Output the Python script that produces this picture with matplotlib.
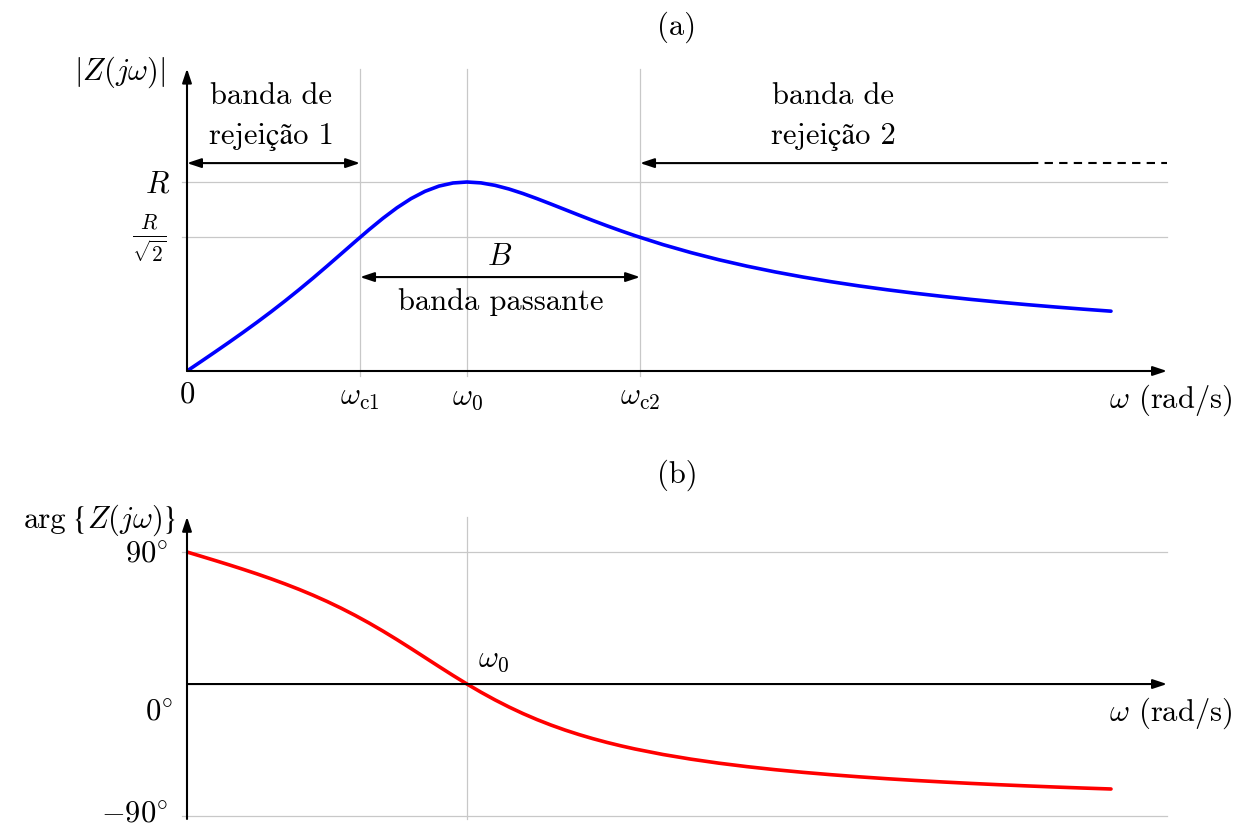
import matplotlib.pyplot as plt

plt.rcParams['font.family'] = ['cmr10', 'STIXGeneral', 'DejaVu Serif']
plt.rcParams['mathtext.fontset'] = 'cm'
plt.rcParams['axes.formatter.use_mathtext'] = True

# frequency (normalised to w0) and values
w = [0, 0.05, 0.1, 0.15, 0.2, 0.25, 0.3, 0.35, 0.4, 0.45, 0.5, 0.55, 0.6,
     0.65, 0.7, 0.75, 0.8, 0.85, 0.9, 0.95, 1.0, 1.05, 1.1, 1.15, 1.2, 1.25,
     1.3, 1.35, 1.4, 1.45, 1.5, 1.55, 1.6, 1.7, 1.8, 1.9, 2.0, 2.1, 2.2, 2.3,
     2.4, 2.5, 2.6, 2.7, 2.8, 2.9, 3.0, 3.1, 3.2, 3.3]
mag = [0, 0.050, 0.1005, 0.1517, 0.204, 0.2577, 0.3131, 0.3705, 0.430,
       0.4914, 0.5547, 0.6192, 0.6839, 0.7476, 0.8082, 0.8638, 0.9119, 0.9506,
       0.9784, 0.9948, 1.0, 0.9953, 0.9823, 0.9629, 0.9389, 0.9119, 0.8833,
       0.854, 0.8247, 0.796, 0.7682, 0.7415, 0.716, 0.6687, 0.6264, 0.5885,
       0.5547, 0.5244, 0.4971, 0.4725, 0.4502, 0.4299, 0.4114, 0.3945, 0.3788,
       0.3644, 0.3511, 0.3388, 0.3273, 0.3165]
phase = [90, 87.13, 84.23, 81.28, 78.23, 75.07, 71.75, 68.25, 64.54, 60.57,
         56.31, 51.74, 46.85, 41.62, 36.08, 30.26, 24.23, 18.08, 11.92, 5.86,
         0, -5.58, -10.81, -15.66, -20.14, -24.23, -27.96, -31.36, -34.44,
         -37.25, -39.81, -42.14, -44.28, -48.03, -51.21, -53.95, -56.31, -58.38,
         -60.19, -61.8, -63.24, -64.54, -65.71, -66.77, -67.74, -68.63, -69.44,
         -70.2, -70.9, -71.55]

w_c1 = 0.618
w_0 = 1.0
w_c2 = 1.618
half = 0.7071

FS = 22
GRID = '#c8c8c8'


def arrow(ax, x0, y0, x1, y1, style='-|>'):
    ax.annotate('', xy=(x1, y1), xytext=(x0, y0), annotation_clip=False,
                arrowprops=dict(arrowstyle=style + ',head_length=0.6,head_width=0.2',
                                mutation_scale=14, lw=1.5, color='black',
                                shrinkA=0, shrinkB=0))


fig = plt.figure(figsize=(12.4, 8.29), dpi=100)
ax1 = fig.add_axes([187 / 1240, (829 - 372) / 829, 980 / 1240, 302.4 / 829])
ax2 = fig.add_axes([187 / 1240, (829 - 820) / 829, 980 / 1240, 302.2 / 829])

# ---- (a) magnitude
ax1.set_xlim(0, 3.5)
ax1.set_ylim(0, 1.6)
ax1.axis('off')
for yv in [1.0, half]:
    ax1.plot([-0.018, 3.5], [yv, yv], color=GRID, lw=0.9, clip_on=False)
for xv in [w_c1, w_0, w_c2]:
    ax1.plot([xv, xv], [-0.026, 1.6], color=GRID, lw=0.9, clip_on=False)
arrow(ax1, 0, 0, 3.5, 0)
arrow(ax1, 0, 0, 0, 1.6)
ax1.plot(w, mag, color='blue', lw=2.6, solid_capstyle='round', solid_joinstyle='round')

arrow(ax1, 0, 1.1, w_c1, 1.1, '<|-|>')
arrow(ax1, 3.01, 1.1, w_c2, 1.1)
ax1.plot([3.01, 3.5], [1.1, 1.1], color='black', lw=1.5, ls=(0, (4, 3)), clip_on=False)
arrow(ax1, w_c1, 0.497, w_c2, 0.497, '<|-|>')

ax1.text(0.30, 1.46, 'banda de', fontsize=FS, ha='center', va='center')
ax1.text(0.30, 1.243, 'rejeição 1', fontsize=FS, ha='center', va='center')
ax1.text(2.307, 1.46, 'banda de', fontsize=FS, ha='center', va='center')
ax1.text(2.307, 1.243, 'rejeição 2', fontsize=FS, ha='center', va='center')
ax1.text(1.118, 0.608, r'$B$', fontsize=FS, ha='center', va='center')
ax1.text(1.121, 0.370, 'banda passante', fontsize=FS, ha='center', va='center')

ax1.text(0, -0.122, r'$0$', fontsize=FS, ha='center', va='center')
ax1.text(w_c1, -0.14, r'$\omega_{\mathrm{c1}}$', fontsize=FS, ha='center', va='center')
ax1.text(w_0, -0.14, r'$\omega_0$', fontsize=FS, ha='center', va='center')
ax1.text(w_c2, -0.14, r'$\omega_{\mathrm{c2}}$', fontsize=FS, ha='center', va='center')
ax1.text(3.732, -0.148, r'$\omega$ (rad/s)', fontsize=FS, ha='right', va='center')
ax1.text(-0.239, 1.587, r'$|Z(j\omega)|$', fontsize=FS, ha='center', va='center')
ax1.text(-0.061, 0.989, r'$R$', fontsize=FS, ha='right', va='center')
ax1.text(-0.071, 0.709, r'$\frac{R}{\sqrt{2}}$', fontsize=FS, ha='right', va='center')

# ---- (b) phase
ax2.set_xlim(0, 3.5)
ax2.set_ylim(-92, 114)
ax2.axis('off')
for yv in [90, -90]:
    ax2.plot([-0.018, 3.5], [yv, yv], color=GRID, lw=0.9, clip_on=False)
ax2.plot([w_0, w_0], [-92, 114], color=GRID, lw=0.9, clip_on=False)
arrow(ax2, 0, 0, 3.5, 0)
arrow(ax2, 0, -92, 0, 114)
ax2.plot(w, phase, color='red', lw=2.6, solid_capstyle='round', solid_joinstyle='round')

# y label of (b), built in pieces so the braces keep text size
yb = 1 - 528 / 829
fig.text(66 / 1240, yb, 'arg', fontsize=FS, ha='right', va='baseline')
fig.text(72 / 1240, yb, '{', fontsize=FS + 2, ha='left', va='baseline', family='STIXGeneral')
fig.text(87 / 1240, yb, r'$Z(j\omega)$', fontsize=FS, ha='left', va='baseline')
fig.text(162 / 1240, yb, '}', fontsize=FS + 2, ha='left', va='baseline', family='STIXGeneral')

ax2.text(-0.068, 88.6, r'$90^{\circ}$', fontsize=FS, ha='right', va='center')
ax2.text(-0.05, -19.1, r'$0^{\circ}$', fontsize=FS, ha='right', va='center')
ax2.text(-0.068, -88.6, r'$-90^{\circ}$', fontsize=FS, ha='right', va='center')
ax2.text(1.096, 17.0, r'$\omega_0$', fontsize=FS, ha='center', va='center')
ax2.text(3.732, -19.1, r'$\omega$ (rad/s)', fontsize=FS, ha='right', va='center')

fig.text(677 / 1240, 1 - 27 / 829, '(a)', fontsize=FS, ha='center', va='center')
fig.text(677 / 1240, 1 - 475 / 829, '(b)', fontsize=FS, ha='center', va='center')

fig.savefig('out.png', dpi=100)
